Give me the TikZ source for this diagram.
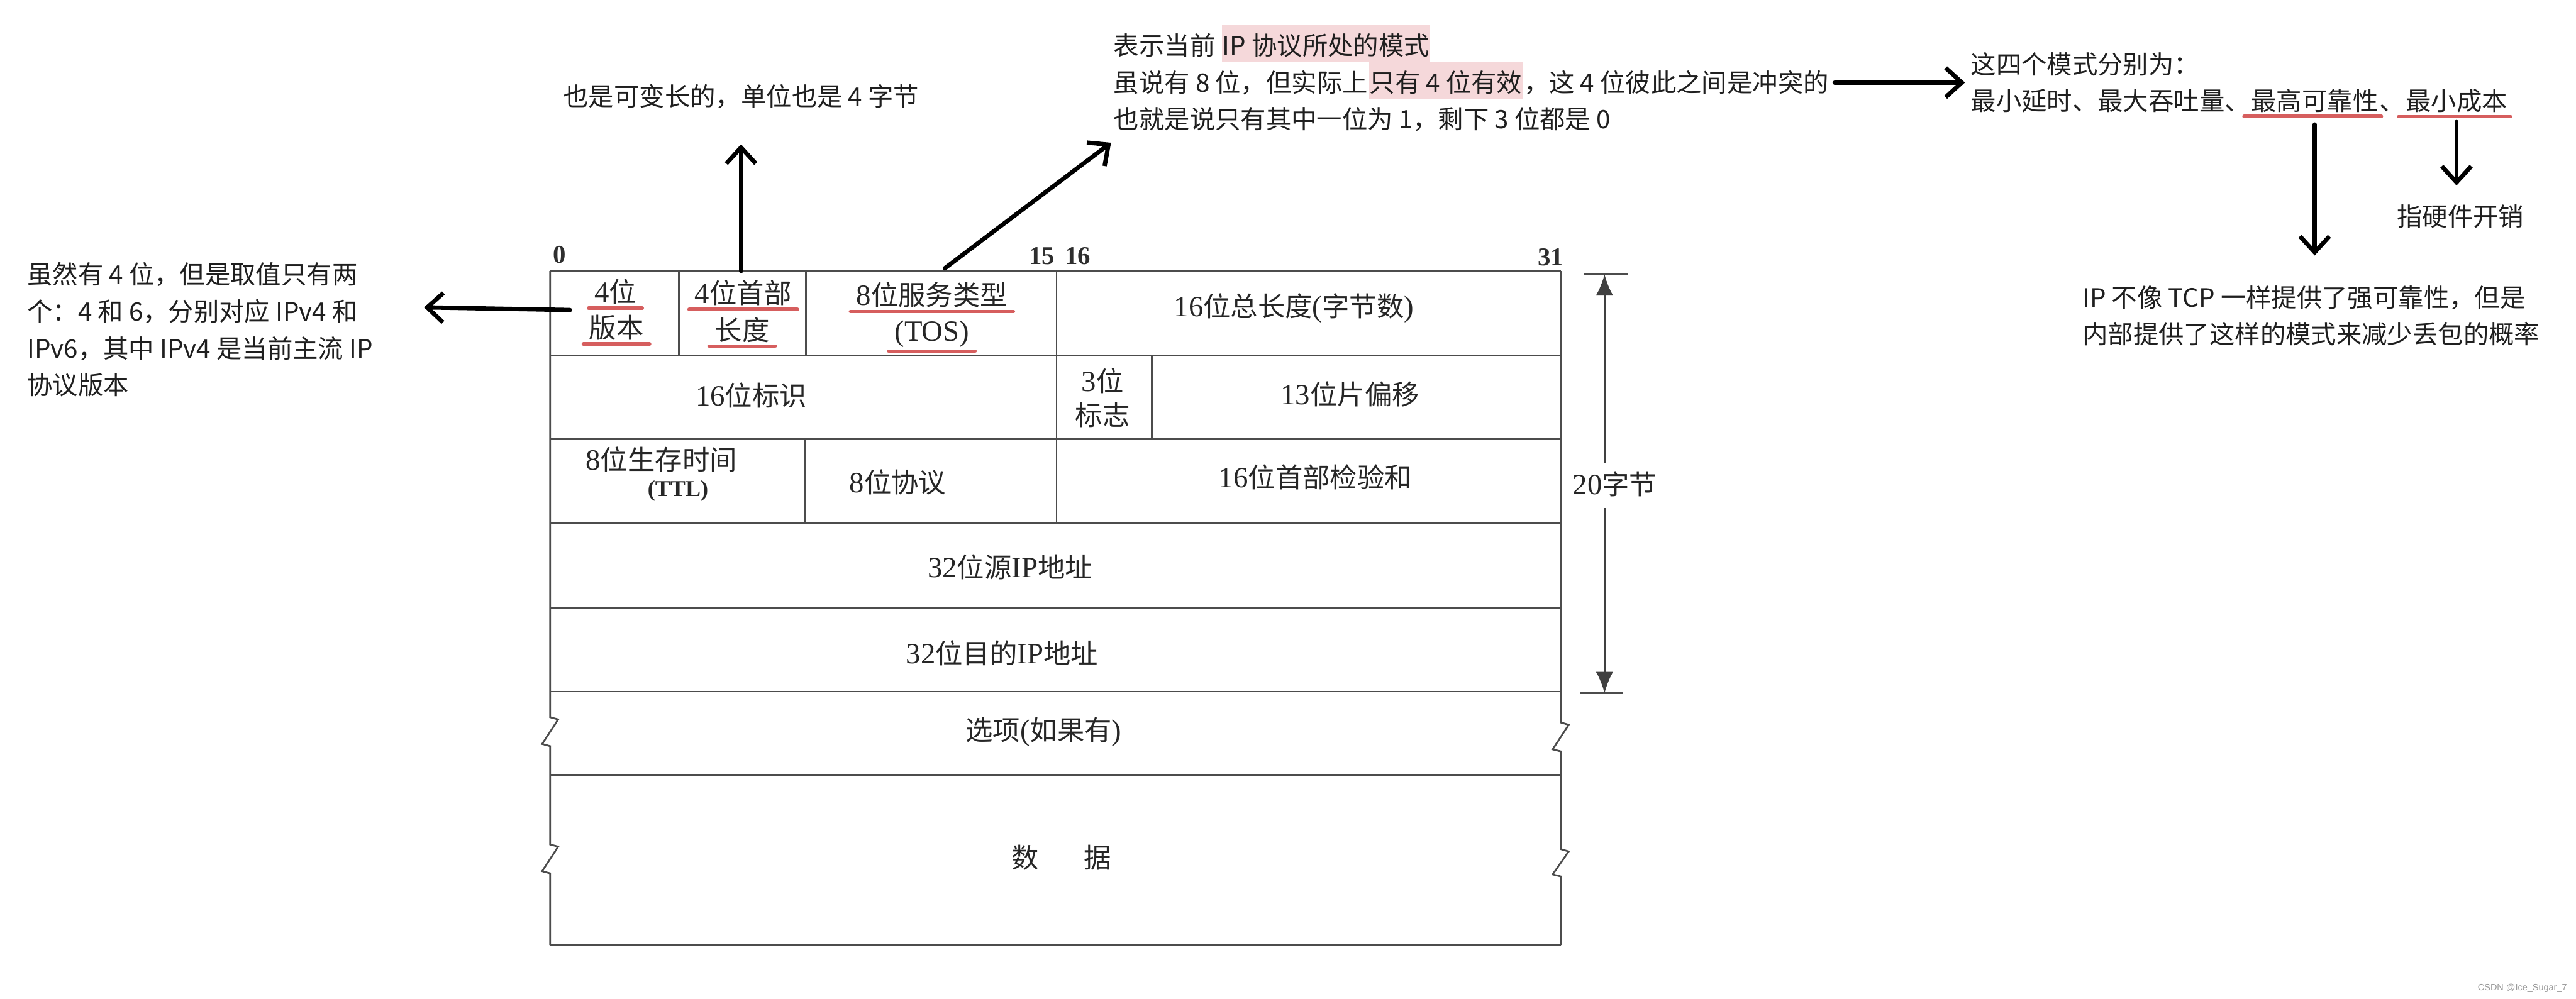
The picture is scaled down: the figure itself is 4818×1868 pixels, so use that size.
\documentclass[tikz,border=0pt]{standalone}
\usepackage{fontspec}
\setmainfont{Noto Sans CJK SC}
\newfontfamily\bitfont{Liberation Serif}
\newfontfamily\wmfont{Liberation Sans}
\usepackage{xcolor}
\usetikzlibrary{arrows.meta}
\definecolor{markred}{RGB}{214,94,94}
\definecolor{hlpink}{RGB}{245,216,218}
\newcommand{\rom}[1]{{\bitfont\fontsize{11}{12}\selectfont #1}}

\begin{document}
\begin{tikzpicture}[x=0.2pt, y=-0.2pt,
                    field/.style={font=\fontsize{10.2}{12}\selectfont, text=black!85, inner sep=0pt},
                    uline/.style={inner xsep=2pt, inner ysep=1.2pt},
                    nline/.style={inner xsep=0pt, inner ysep=1.2pt},
                    grid/.style={line width=0.65pt, draw=black!70},
                    bitno/.style={font=\bitfont\bfseries\fontsize{9.6}{11}\selectfont, text=black!82, inner sep=0pt},
                    note/.style={font=\fontsize{9.5}{13.8}\selectfont, text=black!88, inner sep=0pt},
                    hilite/.style={fill=hlpink, inner xsep=0.3pt, inner ysep=0pt, text height=11.2pt, text depth=2.8pt},
                    redline/.style={draw=markred, line width=1.3pt, line cap=round},
                    notearrow/.style={line width=1.6pt, line cap=round, line join=round, -{Straight Barb[length=6pt, width=11pt]}},
                    dimarrow/.style={line width=0.8pt, draw=black!75, -{Latex[length=8pt, width=6.5pt]}}]
                    \path[use as bounding box, fill=white] (0,0) rectangle (4818,1868);

                    \foreach \y in {507,665,822,979,1137,1294,1450,1768}
                        \draw[grid] (1029,\y) -- (2920,\y);
                    \draw[grid] (1029,507) -- (1029,1342) -- ++(15,4) -- (1014,1392) -- (1029,1396)
                        -- (1029,1580) -- ++(15,4) -- (1014,1630) -- (1029,1634) -- (1029,1768);
                    \draw[grid] (2920,507) -- (2920,1352) -- ++(14,4) -- (2904,1402) -- (2920,1406)
                        -- (2920,1589) -- ++(14,4) -- (2904,1636) -- (2920,1640) -- (2920,1768);
                    \draw[grid] (1270,507) -- (1270,665);
                    \draw[grid] (1507,507) -- (1507,665);
                    \draw[grid] (1976,507) -- (1976,979);
                    \draw[grid] (2154,665) -- (2154,822);
                    \draw[grid] (1505,822) -- (1505,979);

                    \node[bitno] (b0) at (1047,476) {0};
                    \node[bitno] (b15) at (1949,479) {15};
                    \node[bitno] (b16) at (2016,479) {16};
                    \node[bitno] (b31) at (2900,481) {31};

                    \node[field, uline] (ver1) at (1151,546) {\rom{4}位};
                    \node[field, uline] (ver2) at (1153,613) {版本};
                    \node[field, uline] (ihl1) at (1390,548) {\rom{4}位首部};
                    \node[field, uline] (ihl2) at (1388,617) {长度};
                    \node[field, uline] (tos1) at (1743,552) {\rom{8}位服务类型};
                    \node[field, uline] (tos2) at (1743,625) {\rom{(TOS)}};
                    \node[field] (totlen) at (2420,577) {\rom{16}位总长度\rom{(}字节数\rom{)}};
                    \node[field] (ident) at (1405,740) {\rom{16}位标识};
                    \node[field] (flag1) at (2062,713) {\rom{3}位};
                    \node[field] (flag2) at (2062,776) {标志};
                    \node[field] (fragoff) at (2525,738) {\rom{13}位片偏移};
                    \node[field] (ttl1) at (1237,860) {\rom{8}位生存时间};
                    \node[field] (ttl2) at (1268,919) {{\bitfont\bfseries\fontsize{8.5}{10}\selectfont (TTL)}};
                    \node[field] (proto) at (1679,902) {\rom{8}位协议};
                    \node[field] (cksum) at (2460,893) {\rom{16}位首部检验和};
                    \node[field] (srcip) at (1889,1061) {\rom{32}位源\rom{IP}地址};
                    \node[field] (dstip) at (1874,1222) {\rom{32}位目的\rom{IP}地址};
                    \node[field] (opts) at (1952,1370) {选项\rom{(}如果有\rom{)}};
                    \node[field] (data) at (1985,1605) {数\hspace{17pt}据};

                    \coordinate (dimTop) at (3001,513);
                    \coordinate (dimBot) at (3001,1297);
                    \node[field] (dimLabel) at (3020,906) {\rom{20}字节};
                    \draw[grid] ([xshift=-7.6pt]dimTop) -- ([xshift=8.6pt]dimTop);
                    \draw[grid] ([xshift=-9pt]dimBot) -- ([xshift=7pt]dimBot);
                    \draw[dimarrow, shorten <=3pt] (dimTop |- dimLabel.north) -- (dimTop);
                    \draw[dimarrow, shorten <=4pt] (dimBot |- dimLabel.south) -- (dimBot);

                    \node[note, anchor=north west, align=left] (verNote) at (50,490)
                        {虽然有 4 位，但是取值只有两\\个：4 和 6，分别对应 IPv4 和\\IPv6，其中 IPv4 是当前主流 IP\\协议版本};
                    \node[note] (ihlNote) at (1386,180) {也是可变长的，单位也是 4 字节};

                    \node[note, anchor=base west] (tosA) at (2082,103) {表示当前};
                    \node[note, hilite, anchor=base west] (tosB) at ([xshift=2pt]tosA.base east) {IP 协议所处的模式};
                    \node[note, anchor=base west] (tosC) at (2082,172) {虽说有 8 位，但实际上};
                    \node[note, hilite, anchor=base west] (tosD) at (tosC.base east) {只有 4 位有效};
                    \node[note, anchor=base west] (tosE) at (tosD.base east) {，这 4 位彼此之间是冲突的};
                    \node[note, anchor=base west] (tosF) at (2082,241) {也就是说只有其中一位为 1，剩下 3 位都是 0};

                    \node[note, anchor=base west] (modesA) at (3685,138) {这四个模式分别为：};
                    \node[note, anchor=base west] (m1) at (3685,207) {最小延时、最大吞吐量、};
                    \node[note, nline, anchor=base west] (m2) at (m1.base east) {最高可靠性};
                    \node[note, anchor=base west] (m3) at (m2.base east) {、};
                    \node[note, nline, anchor=base west] (m4) at (m3.base east) {最小成本};

                    \node[note, anchor=north west, align=left] (relNote) at (3894,533)
                        {IP 不像 TCP 一样提供了强可靠性，但是\\内部提供了这样的模式来减少丢包的概率};
                    \node[note] (costNote) at (4602,405) {指硬件开销};

                    \foreach \n in {ver1,ver2,ihl1,ihl2,tos1,tos2}
                        \draw[redline] (\n.south west) -- (\n.south east);
                    \foreach \n in {m2,m4}
                        \draw[redline] ([xshift=-2.5pt]\n.south west) -- ([xshift=1pt]\n.south east);

                    \coordinate (verTail) at (1066,580);
                    \coordinate (verTip) at (793,575);
                    \coordinate (ihlTop) at (1386,507);
                    \coordinate (ihlTip) at (1386,270);
                    \coordinate (tosTop) at (1767,502);
                    \coordinate (tosTip) at (2078,267);
                    \draw[notearrow] (verTail) -- (verTip);
                    \draw[notearrow] (ihlTop) -- (ihlTip);
                    \draw[notearrow] (tosTop) -- (tosTip);
                    \draw[notearrow, shorten <=2pt, shorten >=2pt] (tosE.east) -- (tosE.east -| modesA.west);
                    \draw[notearrow, shorten <=3pt, shorten >=11pt] (m2.south) -- (m2.south |- relNote.north);
                    \draw[notearrow, shorten <=2pt, shorten >=7pt] (m4.south) -- (m4.south |- costNote.north);

                    \node[font=\wmfont\fontsize{3.4}{4}\selectfont, text=black!40, anchor=east, inner sep=0pt] (wmark) at (4802,1849) {CSDN @Ice\_Sugar\_7};
            \end{tikzpicture}
\end{document}
